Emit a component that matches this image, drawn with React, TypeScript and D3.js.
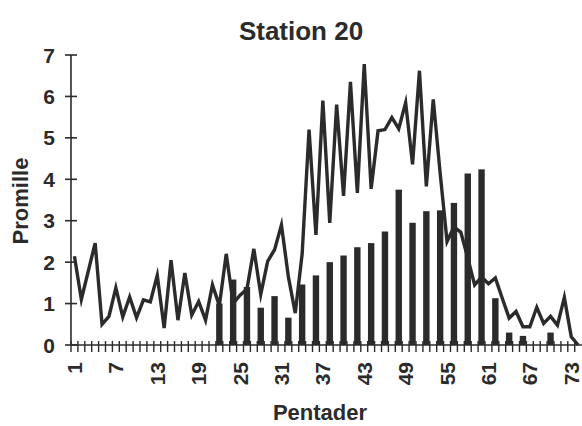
import * as d3 from "d3";

const WIDTH = 582;
const HEIGHT = 426;
const MARGIN = { top: 55, right: 0, bottom: 81, left: 71 };
const INK = "#2b2b2b";
const FONT = "'Liberation Sans', Arial, sans-serif";

// pentads 1..74 on the category axis
const pentads = d3.range(1, 75);

// line series, one value per pentad
const lineValues = [
  2.14, 1.1, 1.78, 2.46, 0.5, 0.69, 1.38, 0.68, 1.16, 0.66,
  1.09, 1.04, 1.68, 0.41, 2.05, 0.6, 1.74, 0.72, 1.05, 0.6,
  1.45, 0.95, 2.2, 1.0, 1.2, 1.35, 2.32, 1.22, 2.02, 2.3,
  2.9, 1.65, 0.77, 2.2, 5.2, 2.66, 5.9, 2.95, 5.8, 3.6,
  6.35, 3.67, 6.78, 3.77, 5.17, 5.2, 5.49, 5.22, 5.85, 4.36,
  6.62, 3.83, 5.93, 4.15, 2.5, 2.85, 2.72, 2.1, 1.45, 1.64,
  1.48, 1.62, 1.13, 0.65, 0.81, 0.44, 0.44, 0.91, 0.52, 0.69,
  0.48, 1.15, 0.2, 0,
];

// bar series, every second pentad
const barPentads = [
  22, 24, 26, 28, 30, 32, 34, 36, 38, 40, 42, 44, 46,
  48, 50, 52, 54, 56, 58, 60, 62, 64, 66, 68, 70,
];
const barValues = [
  1.0, 1.58, 1.4, 0.9, 1.18, 0.66, 1.46, 1.68, 2.0, 2.16, 2.36, 2.46, 2.74,
  3.75, 2.95, 3.23, 3.25, 3.43, 4.14, 4.24, 1.13, 0.3, 0.22, 0, 0.3,
];

const xTickLabels = [1, 7, 13, 19, 25, 31, 37, 43, 49, 55, 61, 67, 73];
const yTicks = [0, 1, 2, 3, 4, 5, 6, 7];

const BAR_WIDTH = 6.4;

export default function App() {
  const boundsHeight = HEIGHT - MARGIN.top - MARGIN.bottom;

  const xScale = d3
    .scaleBand<number>()
    .domain(pentads)
    .range([MARGIN.left, MARGIN.left + 74 * 6.9])
    .padding(0);
  const bw = xScale.bandwidth();
  const cx = (p: number) => (xScale(p) ?? 0) + bw / 2;

  const yScale = d3
    .scaleLinear()
    .domain([0, 7])
    .range([MARGIN.top + boundsHeight, MARGIN.top]);
  const y0 = yScale(0);

  const linePath = d3
    .line<number>()
    .x((_, i) => cx(pentads[i]))
    .y((d) => yScale(d))(lineValues);

  return (
    <svg
      width={WIDTH}
      height={HEIGHT}
      style={{ position: "absolute", left: 0, top: 0, background: "#fff" }}
      fontFamily={FONT}
    >
      <text x={301} y={40} textAnchor="middle" fontSize={26} fontWeight="bold" fill={INK}>
        Station 20
      </text>

      {barPentads.map((p, i) => (
        <rect
          key={p}
          x={cx(p) - BAR_WIDTH / 2}
          width={BAR_WIDTH}
          y={yScale(barValues[i])}
          height={y0 - yScale(barValues[i])}
          fill={INK}
        />
      ))}

      <path
        d={linePath ?? ""}
        fill="none"
        stroke={INK}
        strokeWidth={3.4}
        strokeLinejoin="miter"
        strokeMiterlimit={6}
      />

      {/* y axis */}
      <line x1={MARGIN.left} x2={MARGIN.left} y1={yScale(7)} y2={y0} stroke={INK} strokeWidth={1.6} />
      {yTicks.map((t) => (
        <g key={t}>
          <line
            x1={MARGIN.left - 6}
            x2={MARGIN.left + 6}
            y1={yScale(t)}
            y2={yScale(t)}
            stroke={INK}
            strokeWidth={1.6}
          />
          <text x={55} y={yScale(t)} dy="0.36em" textAnchor="end" fontSize={21} fontWeight="bold" fill={INK}>
            {t}
          </text>
        </g>
      ))}
      <text
        transform={`translate(28, 201) rotate(-90)`}
        textAnchor="middle"
        fontSize={22}
        fontWeight="bold"
        fill={INK}
      >
        Promille
      </text>

      {/* x axis */}
      <line x1={MARGIN.left} x2={WIDTH} y1={y0} y2={y0} stroke={INK} strokeWidth={1.6} />
      {pentads.map((p) => (
        <line
          key={p}
          x1={xScale(p)}
          x2={xScale(p)}
          y1={y0 - 4}
          y2={y0 + 7}
          stroke={INK}
          strokeWidth={1.4}
        />
      ))}
      {xTickLabels.map((p) => (
        <text
          key={p}
          transform={`translate(${cx(p)}, 362) rotate(-90)`}
          dy="0.36em"
          textAnchor="end"
          fontSize={21}
          fontWeight="bold"
          fill={INK}
        >
          {p}
        </text>
      ))}
      <text x={320} y={420} textAnchor="middle" fontSize={22} fontWeight="bold" fill={INK}>
        Pentader
      </text>
    </svg>
  );
}
